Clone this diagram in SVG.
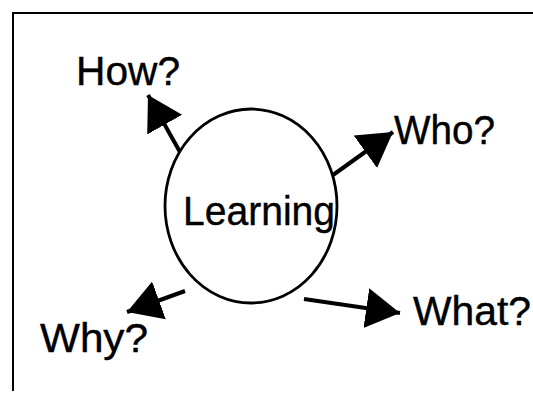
<svg xmlns="http://www.w3.org/2000/svg" width="533" height="394" viewBox="0 0 533 394">
  <style>
    .frame { stroke: #000; stroke-width: 2; fill: none; }
    .conn { stroke: #000; stroke-width: 4; fill: none; }
    .node { stroke: #000; stroke-width: 2.8; fill: #fff; }
    .lbl { font-family: "Liberation Sans", Arial, sans-serif; font-size: 40px; fill: #000; stroke: #000; stroke-width: 0.4; }
  </style>
  <defs>
    <marker id="head" markerUnits="userSpaceOnUse" markerWidth="36" markerHeight="42" viewBox="0 0 36 42" refX="34" refY="21" orient="auto">
      <path d="M0,1 L34,21 L0,41 Z" fill="#000"/>
    </marker>
  </defs>
  <g id="frame">
    <line class="frame" x1="13" y1="13" x2="533" y2="13"/>
    <line class="frame" x1="13" y1="12" x2="13" y2="391"/>
  </g>
  <g id="connectors">
    <line class="conn" x1="180" y1="152" x2="148" y2="95" marker-end="url(#head)"/>
    <line class="conn" x1="333" y1="175" x2="393" y2="132" marker-end="url(#head)"/>
    <line class="conn" x1="185" y1="291" x2="127" y2="312" marker-end="url(#head)"/>
    <line class="conn" x1="304" y1="299" x2="400" y2="313" marker-end="url(#head)"/>
  </g>
  <g id="learning">
    <ellipse class="node" cx="251" cy="206" rx="86" ry="97"/>
    <text class="lbl" x="183" y="225" textLength="152" lengthAdjust="spacingAndGlyphs">Learning</text>
  </g>
  <g id="how">
    <text class="lbl" x="76" y="85" textLength="104" lengthAdjust="spacingAndGlyphs">How?</text>
  </g>
  <g id="who">
    <text class="lbl" x="394" y="144" textLength="101" lengthAdjust="spacingAndGlyphs">Who?</text>
  </g>
  <g id="why">
    <text class="lbl" x="40" y="352" textLength="108" lengthAdjust="spacingAndGlyphs">Why?</text>
  </g>
  <g id="what">
    <text class="lbl" x="413" y="325" textLength="118" lengthAdjust="spacingAndGlyphs">What?</text>
  </g>
</svg>
